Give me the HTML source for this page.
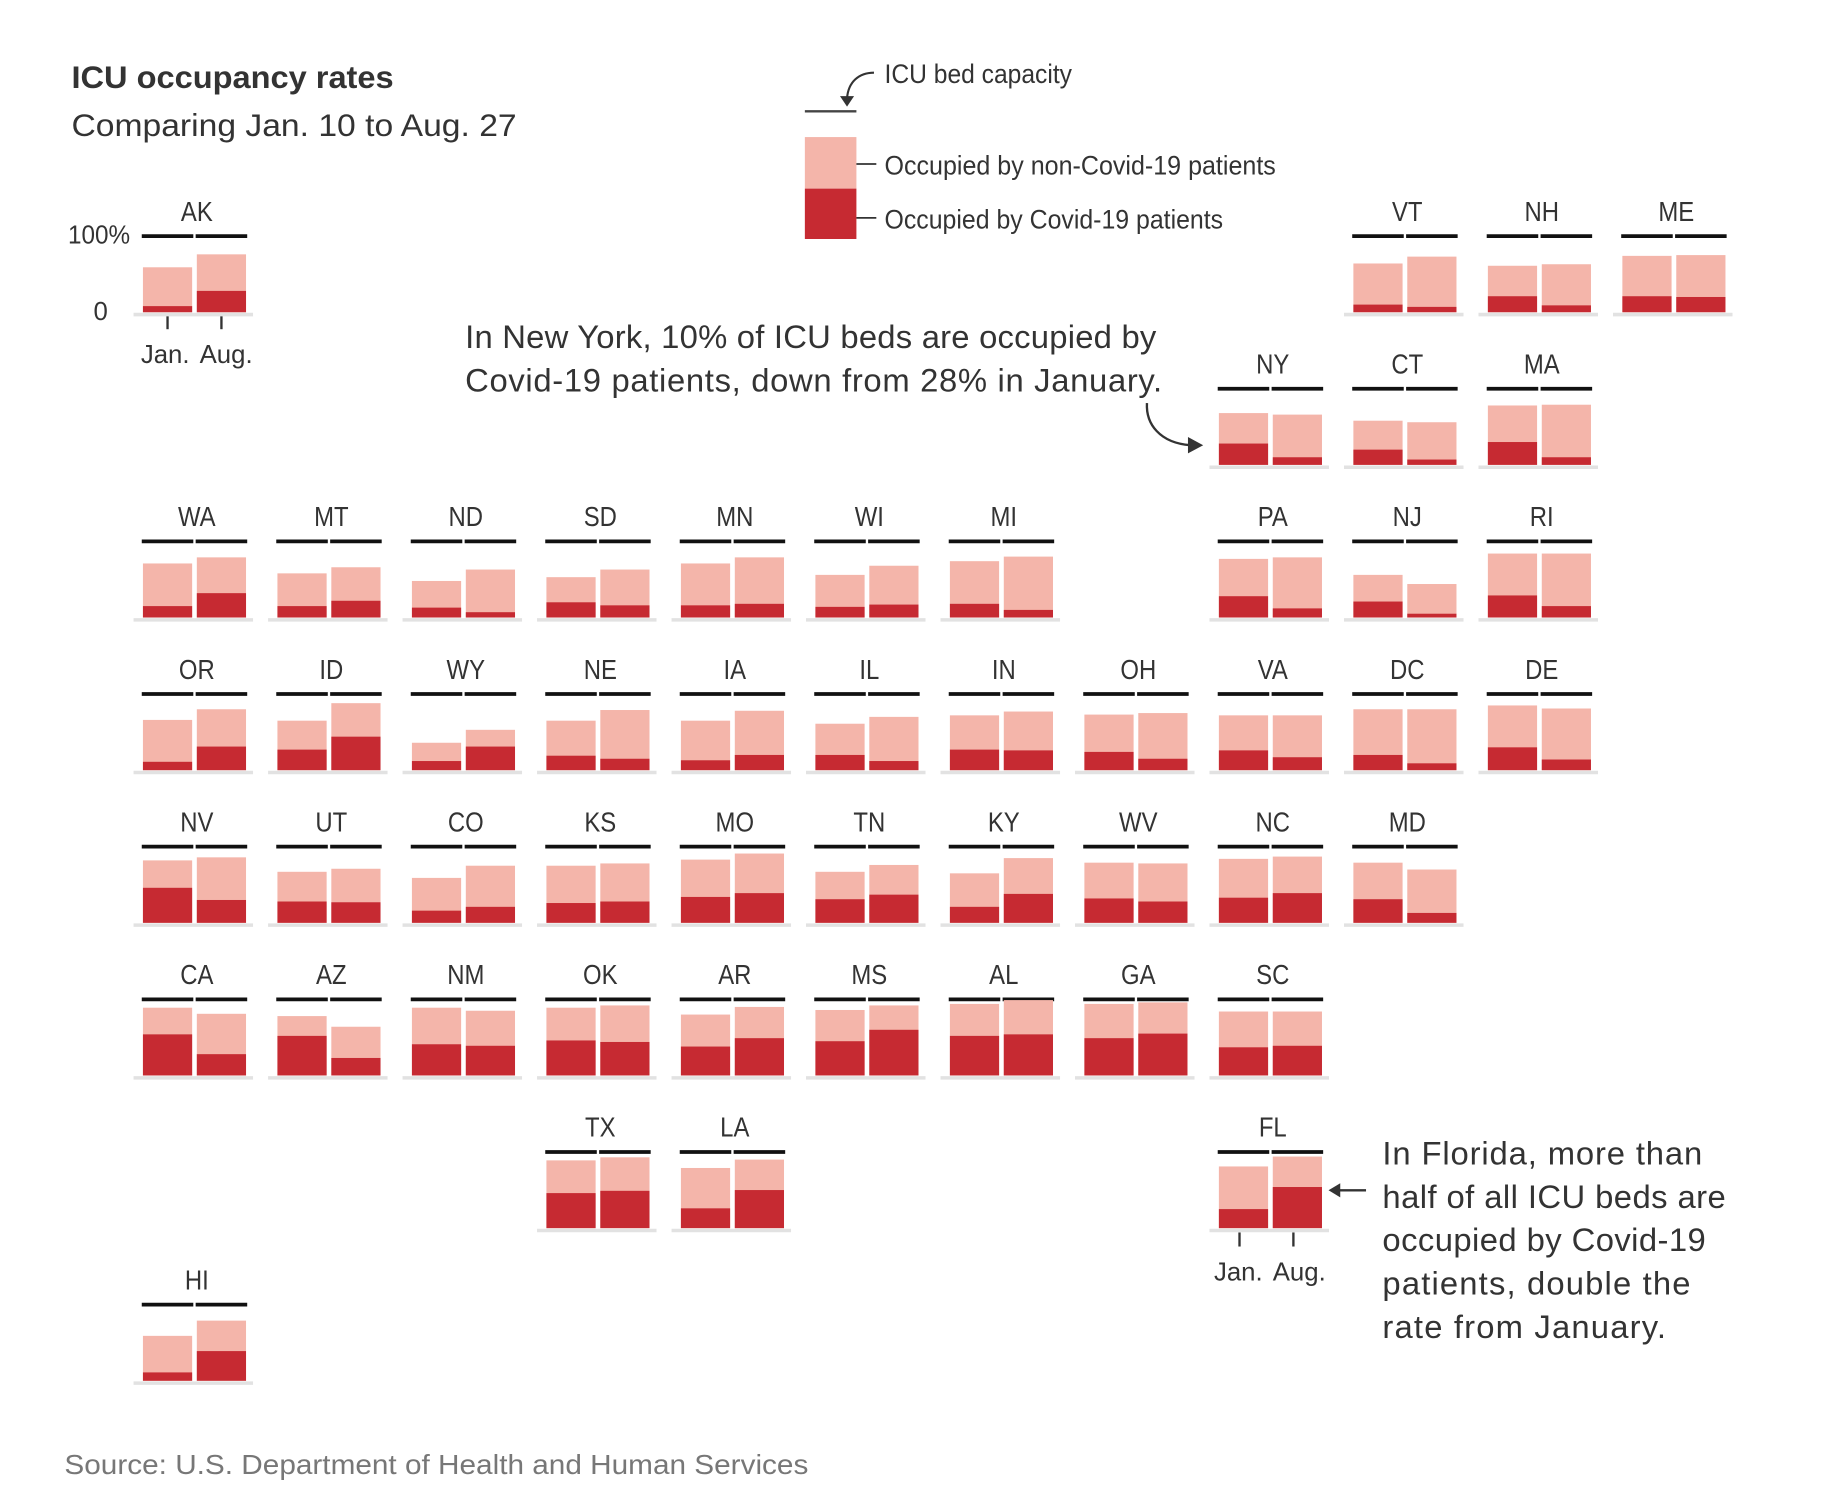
<!DOCTYPE html>
<html><head><meta charset="utf-8"><title>ICU occupancy rates</title>
<style>
html,body{margin:0;padding:0;background:#fff;}
svg{display:block;}
text{font-family:"Liberation Sans",sans-serif;fill:#333;}
.nar{font-family:"Liberation Sans Narrow","Liberation Sans",sans-serif;}
</style></head>
<body>
<svg id="chart" width="1837" height="1512" viewBox="0 0 1568 1290.6" xmlns="http://www.w3.org/2000/svg">
<text x="61" y="75" font-size="27" font-weight="bold" fill="#222" textLength="275" lengthAdjust="spacingAndGlyphs">ICU occupancy rates</text>
<text x="61" y="116" font-size="27" fill="#333" textLength="380" lengthAdjust="spacingAndGlyphs">Comparing Jan. 10 to Aug. 27</text>

<g>
<line x1="687" y1="95" x2="731" y2="95" stroke="#444" stroke-width="2"/>
<rect x="687" y="117" width="44" height="44" fill="#f4b5aa"/>
<rect x="687" y="161" width="44" height="43" fill="#c62a32"/>
<line x1="731" y1="140" x2="748" y2="140" stroke="#333" stroke-width="1.5"/>
<line x1="731" y1="186" x2="748" y2="186" stroke="#333" stroke-width="1.5"/>
<path d="M746,62 C733,62 724,70 723,84" fill="none" stroke="#333" stroke-width="1.8"/>
<path d="M717,82 L723,91 L729,82 Z" fill="#333"/>
<text class="nar" x="755" y="71" font-size="23" textLength="160" lengthAdjust="spacingAndGlyphs">ICU bed capacity</text>
<text class="nar" x="755" y="149" font-size="23" textLength="334" lengthAdjust="spacingAndGlyphs">Occupied by non-Covid-19 patients</text>
<text class="nar" x="755" y="195" font-size="23" textLength="289" lengthAdjust="spacingAndGlyphs">Occupied by Covid-19 patients</text>
</g>

<g>
<text x="111" y="208" font-size="22" text-anchor="end" class="nar" textLength="53" lengthAdjust="spacingAndGlyphs">100%</text>
<text x="92" y="273" font-size="22" text-anchor="end" class="nar">0</text>
<line x1="143" y1="269" x2="143" y2="281" stroke="#333" stroke-width="2"/>
<line x1="189" y1="269" x2="189" y2="281" stroke="#333" stroke-width="2"/>
<text class="nar" x="141" y="310" font-size="22" text-anchor="middle">Jan.</text>
<text class="nar" x="193" y="310" font-size="22" text-anchor="middle">Aug.</text>
</g>

<g>
<text x="397" y="297" font-size="28" textLength="590">In New York, 10% of ICU beds are occupied by</text>
<text x="397" y="334" font-size="28" textLength="595">Covid-19 patients, down from 28% in January.</text>
<path d="M979,344 C978,362 990,378 1016,380" fill="none" stroke="#333" stroke-width="2"/>
<path d="M1014,373 L1027,380 L1014,387 Z" fill="#333"/>
</g>

<g>
<text x="1180" y="994" font-size="28" textLength="273">In Florida, more than</text>
<text x="1180" y="1031" font-size="28" textLength="293">half of all ICU beds are</text>
<text x="1180" y="1068" font-size="28" textLength="276">occupied by Covid-19</text>
<text x="1180" y="1105" font-size="28" textLength="263">patients, double the</text>
<text x="1180" y="1142" font-size="28" textLength="242">rate from January.</text>
<line x1="1166" y1="1016" x2="1142" y2="1016" stroke="#333" stroke-width="2"/>
<path d="M1144,1010 L1134,1016 L1144,1022 Z" fill="#333"/>
<line x1="1058" y1="1052" x2="1058" y2="1064" stroke="#333" stroke-width="2"/>
<line x1="1104" y1="1052" x2="1104" y2="1064" stroke="#333" stroke-width="2"/>
<text class="nar" x="1057" y="1093" font-size="22" text-anchor="middle">Jan.</text>
<text class="nar" x="1109" y="1093" font-size="22" text-anchor="middle">Aug.</text>
</g>

<text x="55" y="1258" font-size="24" style="fill:#777" textLength="635" lengthAdjust="spacingAndGlyphs">Source: U.S. Department of Health and Human Services</text>
<g id="tiles"></g>
</svg>
<script>
// State tile-grid data
const states   = ["AK","VT","NH","ME","NY","CT","MA","WA","MT","ND","SD","MN","WI","MI","PA","NJ","RI","OR","ID","WY","NE","IA","IL","IN","OH","VA","DC","DE","NV","UT","CO","KS","MO","TN","KY","WV","NC","MD","CA","AZ","NM","OK","AR","MS","AL","GA","SC","TX","LA","FL","HI"];
const gridCol  = [0,9,10,11,8,9,10,0,1,2,3,4,5,6,8,9,10,0,1,2,3,4,5,6,7,8,9,10,0,1,2,3,4,5,6,7,8,9,0,1,2,3,4,5,6,7,8,3,4,8,0];
const gridRow  = [0,0,0,0,1,1,1,2,2,2,2,2,2,2,2,2,2,3,3,3,3,3,3,3,3,3,3,3,4,4,4,4,4,4,4,4,4,4,5,5,5,5,5,5,5,5,5,6,6,6,7];
// occupancy (% of capacity) — total and covid, Jan 10 and Aug 27
const janTotal = [59,64,61,74,68,58,78,71,58,48,53,71,56,74,77,56,84,66,65,36,65,65,61,72,73,72,80,85,82,67,59,75,83,67,65,79,84,79,89,78,89,89,80,86,94,94,84,89,79,81,59];
const janCovid = [8,10,21,21,28,20,30,15,15,13,20,16,14,18,28,21,29,11,27,12,19,13,20,27,24,26,20,30,46,28,16,26,34,31,21,32,33,31,54,52,41,46,38,45,52,49,37,46,26,25,11];
const augTotal = [76,73,63,75,66,56,79,79,66,63,63,79,68,80,79,44,84,80,88,53,79,78,70,77,75,72,80,81,86,71,75,78,91,76,85,78,87,70,81,64,85,92,90,92,99,96,84,93,90,94,79];
const augCovid = [28,7,9,20,10,7,10,32,22,7,16,18,17,10,12,5,15,31,44,31,15,20,12,26,15,17,9,14,30,27,21,28,39,37,38,28,39,13,28,23,39,44,49,60,54,55,39,49,50,54,39];

const NS = "http://www.w3.org/2000/svg";
const g = document.getElementById("tiles");
const colX = c => 166 + c * 114.8;
const rowY = r => 201.5 + r * 130.3;     // capacity line y
const H = 65;                            // px per 100%
const yScale = (p, base) => base - p / 100 * H;

function mk(tag, attrs) {
  const el = document.createElementNS(NS, tag);
  for (const k in attrs) el.setAttribute(k, attrs[k]);
  return el;
}

states.forEach((st, i) => {
  const cx = colX(gridCol[i]);
  const ly = rowY(gridRow[i]);
  const base = ly + H;
  const tile = mk("g", {});
  
  
  g.appendChild(tile);

  const lab = mk("text", {x: cx + 2, y: ly - 13, "font-size": 24, "text-anchor": "middle", "class": "nar",
    transform: "translate(" + (cx + 2) + ",0) scale(0.85,1) translate(" + (-(cx + 2)) + ",0)"});
  lab.textContent = st;
  
  
  tile.appendChild(lab);

  const gl = mk("line", {x1: cx - 52, y1: base + 2, x2: cx + 50, y2: base + 2, stroke: "#e2e2e2", "stroke-width": 3});
  
  
  tile.appendChild(gl);

  const bars = [[cx - 44, janTotal[i], janCovid[i], "jan"], [cx + 2, augTotal[i], augCovid[i], "aug"]];
  bars.forEach(([x, tot, cov, m]) => {
    const cap = mk("line", {x1: x - 1, y1: ly, x2: x + 43, y2: ly, stroke: "#111", "stroke-width": 3.2});
    
    
    tile.appendChild(cap);

    const r1 = mk("rect", {x: x, y: yScale(tot, base), width: 42, height: base - yScale(tot, base), fill: "#f4b5aa"});
    
    
    tile.appendChild(r1);

    const r2 = mk("rect", {x: x, y: yScale(cov, base), width: 42, height: base - yScale(cov, base), fill: "#c62a32"});
    
    
    tile.appendChild(r2);
  });
});
</script>
</body></html>
